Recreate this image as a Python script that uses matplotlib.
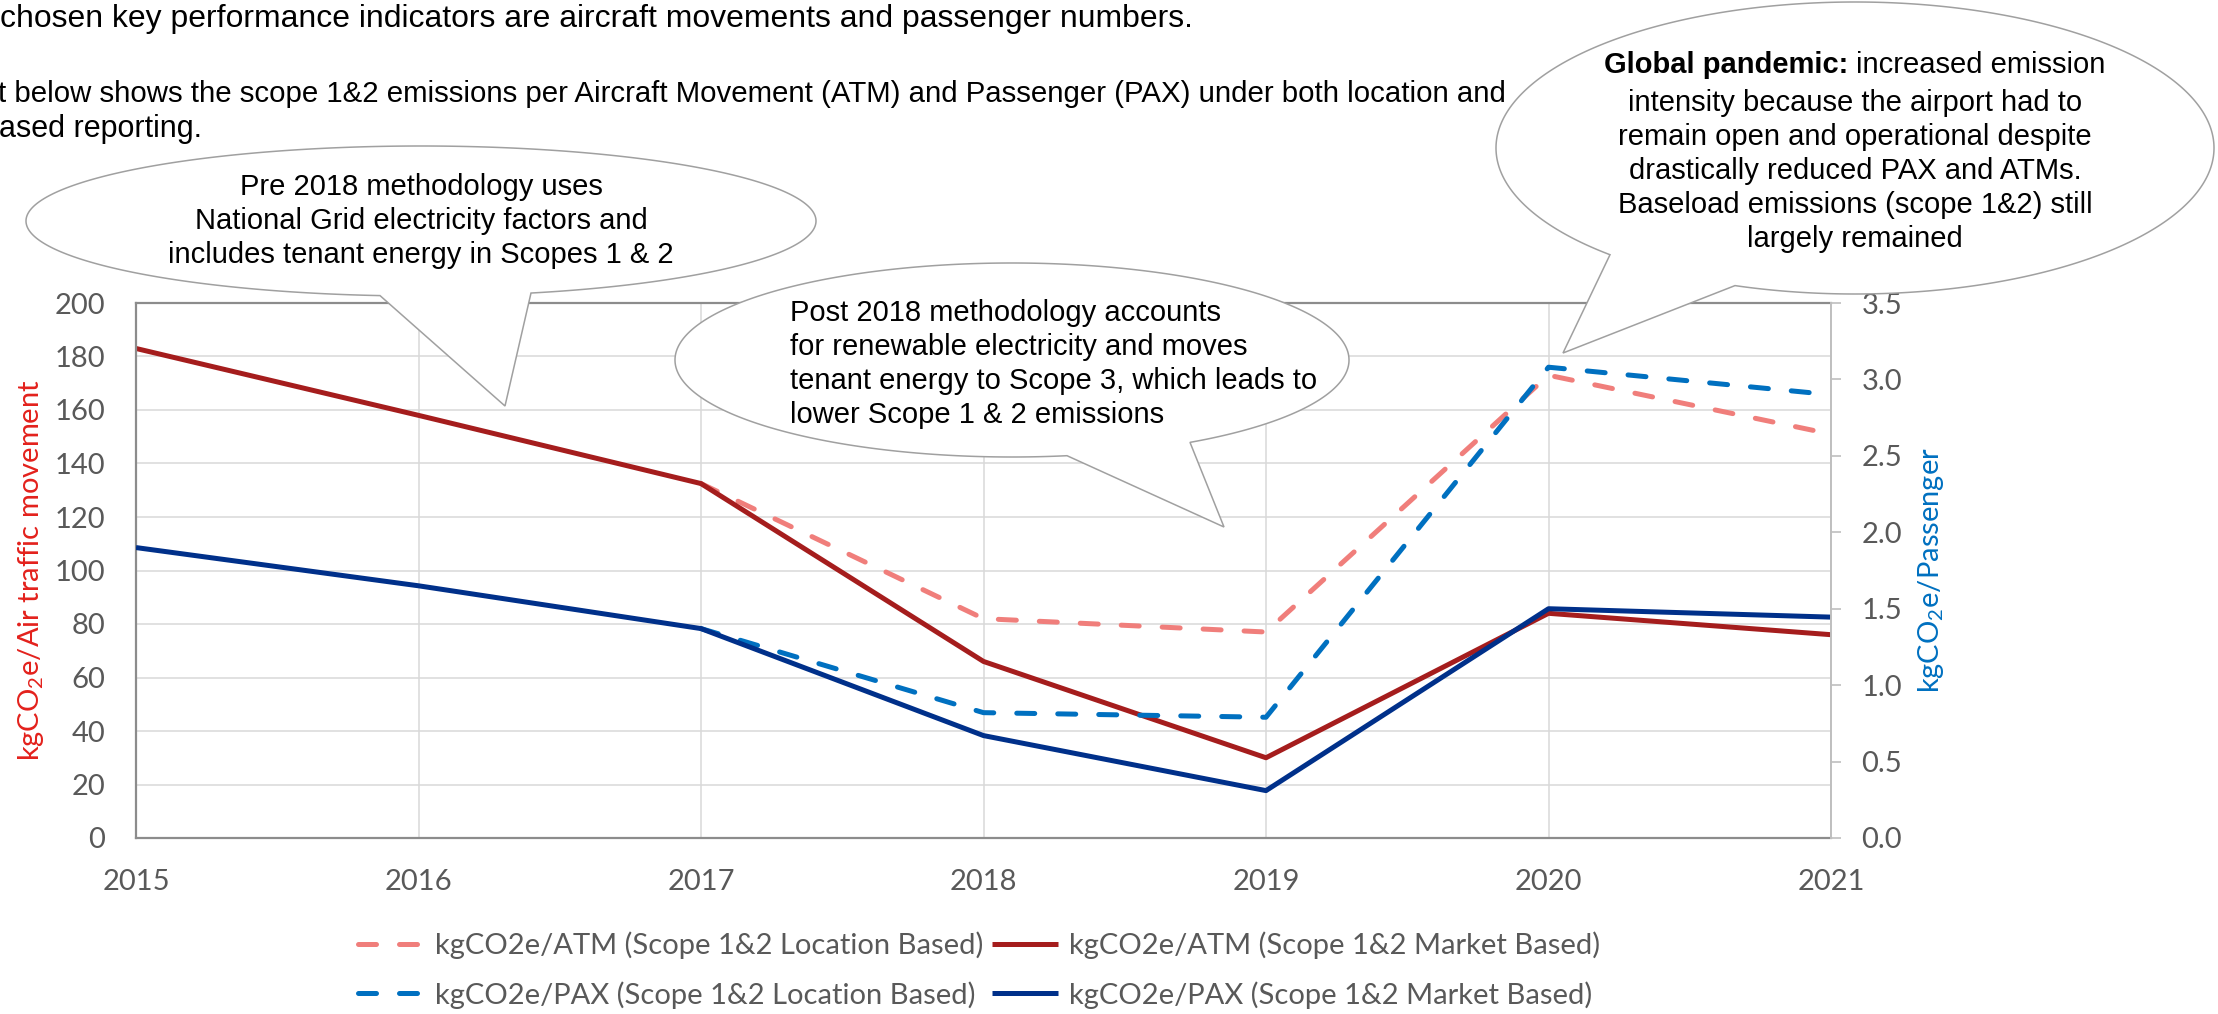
import matplotlib
matplotlib.use('Agg')
import matplotlib.pyplot as plt
import numpy as np
from matplotlib.patches import Polygon

# Data
years = [2015, 2016, 2017, 2018, 2019, 2020, 2021]
atm_location = [np.nan, np.nan, 132.5, 82, 77, 173, 151]
atm_market = [183, 158, 132.5, 66, 30, 84, 76]
pax_location = [np.nan, np.nan, 1.37, 0.82, 0.79, 3.08, 2.90]
pax_market = [1.90, 1.65, 1.37, 0.67, 0.31, 1.50, 1.445]
left_ticks = list(range(0, 201, 20))
right_ticks = [0.0, 0.5, 1.0, 1.5, 2.0, 2.5, 3.0, 3.5]

labels = ['kgCO2e/ATM (Scope 1&2 Location Based)',
          'kgCO2e/ATM (Scope 1&2 Market Based)',
          'kgCO2e/PAX (Scope 1&2 Location Based)',
          'kgCO2e/PAX (Scope 1&2 Market Based)']

# Colours
PINK = '#F07E7B'
DARK_RED = '#A51D1D'
BLUE = '#0070C0'
NAVY = '#00308A'
GRID = '#D9D9D9'
SPINE = '#8C8C8C'
SPINE_LIGHT = '#BFBFBF'
TICK_TXT = '#595959'
EDGE = '#A0A0A0'

plt.rcParams.update({
    'font.family': ['Lato', 'DejaVu Sans'],
    'mathtext.default': 'regular',
})

W, H = 2218, 1014
fig = plt.figure(figsize=(W / 100, H / 100), dpi=100)
renderer = fig.canvas.get_renderer()


def fx(x):
    return x / W


def fy(y):
    return 1 - y / H


ax = fig.add_axes([fx(136), fy(838), (1831 - 136) / W, (838 - 303) / H])
ax2 = ax.twinx()

lw = 3.6
dash = (0, (3.6, 4.6))
l1, = ax.plot(years, atm_location, color=PINK, lw=lw, linestyle=dash,
              dash_capstyle='round', label=labels[0])
l2, = ax.plot(years, atm_market, color=DARK_RED, lw=lw,
              solid_capstyle='butt', label=labels[1])
l3, = ax2.plot(years, pax_location, color=BLUE, lw=lw, linestyle=dash,
               dash_capstyle='round', label=labels[2])
l4, = ax2.plot(years, pax_market, color=NAVY, lw=lw,
               solid_capstyle='butt', label=labels[3])

ax.set_xlim(2015, 2021)
ax.set_ylim(0, 200)
ax2.set_ylim(0, 3.5)
ax.set_xticks(years)
ax.set_yticks(left_ticks)
ax2.set_yticks(right_ticks)
ax2.set_yticklabels([f'{v:.1f}' for v in right_ticks])

ax.grid(True, color=GRID, lw=1.1)
ax.set_axisbelow(True)

ax.tick_params(axis='y', length=0, pad=22, labelsize=21, labelcolor=TICK_TXT)
ax.tick_params(axis='x', length=0, pad=22, labelsize=21, labelcolor=TICK_TXT)
ax2.tick_params(axis='y', length=7, width=1.2, color=SPINE_LIGHT, pad=15,
                labelsize=21, labelcolor=TICK_TXT)

for s in ['left', 'bottom', 'top']:
    ax.spines[s].set_color(SPINE)
    ax.spines[s].set_linewidth(1.6)
ax.spines['right'].set_visible(False)
for s in ['left', 'bottom', 'top']:
    ax2.spines[s].set_visible(False)
ax2.spines['right'].set_color(SPINE_LIGHT)
ax2.spines['right'].set_linewidth(1.4)

ax.set_ylabel(r'kgCO$_2$e/Air traffic movement', color='#E3211C',
              fontsize=21, va='center')
ax.yaxis.set_label_coords((31 - 136) / 1695, 0.5)
ax2.set_ylabel(r'kgCO$_2$e/Passenger', color=BLUE, fontsize=21,
               va='center', rotation=90)
ax2.yaxis.set_label_coords((1931 - 136) / 1695, 0.5)

# Legend (row order: ATM loc, ATM market / PAX loc, PAX market)
fig.legend([l1, l3, l2, l4], [labels[0], labels[2], labels[1], labels[3]],
           ncol=2, loc='center', bbox_to_anchor=(fx(979), fy(970)),
           frameon=False, fontsize=21, labelcolor=TICK_TXT,
           handlelength=2.25, handletextpad=0.4, columnspacing=0.3,
           labelspacing=0.75, borderpad=0)

# Text above chart (cropped paragraph); first two lines fitted to width
TXT = dict(family='Liberation Sans', color='black', ha='left', va='baseline')


def fitted_text(x0, y, s, x_end, fs=22):
    t = fig.text(fx(x0), fy(y), s, fontsize=fs, **TXT)
    w = t.get_window_extent(renderer).width
    t.set_fontsize(fs * (x_end - x0) / w)
    return t


fitted_text(0, 27, 'chosen key performance indicators are aircraft '
            'movements and passenger numbers.', 1187)
fitted_text(-2, 102, 't below shows the scope 1&2 emissions per Aircraft '
            'Movement (ATM) and Passenger (PAX) under both location and', 1503)
fig.text(fx(-1), fy(137), 'ased reporting.', fontsize=22, **TXT)


def bubble(cx, cy, a, b, x1, x2, tip):
    t1 = np.arccos((x1 - cx) / a)
    t2 = np.arccos((x2 - cx) / a)
    t = np.linspace(t2, t1 - 2 * np.pi, 700)
    pts = [tip] + list(zip(cx + a * np.cos(t), cy + b * np.sin(t)))
    pts = [(fx(x), fy(y)) for x, y in pts]
    poly = Polygon(pts, closed=True, transform=fig.transFigure,
                   facecolor='white', edgecolor=EDGE, lw=1.1, zorder=5)
    fig.patches.append(poly)


BT = dict(family='Liberation Sans', fontsize=21, color='black',
          linespacing=1.28, zorder=6)

bubble(421, 221, 395, 75, 380, 531, (505, 406))
fig.text(fx(421), fy(221), 'Pre 2018 methodology uses\n'
         'National Grid electricity factors and\n'
         'includes tenant energy in Scopes 1 & 2',
         ha='center', va='center', multialignment='center', **BT)

bubble(1012, 360, 337, 97, 1067, 1190, (1224, 527))
fig.text(fx(790), fy(364), 'Post 2018 methodology accounts\n'
         'for renewable electricity and moves\n'
         'tenant energy to Scope 3, which leads to\n'
         'lower Scope 1 & 2 emissions',
         ha='left', va='center', multialignment='left', **BT)

bubble(1855, 148, 359, 146, 1610, 1735, (1563, 353))
# first line: bold lead-in followed by regular text
tb = fig.text(0, fy(65), 'Global pandemic:', fontweight='bold',
              ha='left', va='center', **BT)
tr = fig.text(0, fy(65), 'increased emission', ha='left', va='center', **BT)
wb = tb.get_window_extent(renderer).width
wr = tr.get_window_extent(renderer).width
gap = 8
x_start = 1855 - (wb + gap + wr) / 2
tb.set_x(fx(x_start))
tr.set_x(fx(x_start + wb + gap))
fig.text(fx(1855), fy(171), 'intensity because the airport had to\n'
         'remain open and operational despite\n'
         'drastically reduced PAX and ATMs.\n'
         'Baseload emissions (scope 1&2) still\n'
         'largely remained',
         ha='center', va='center', multialignment='center', **BT)

fig.savefig('out.png', dpi=100, facecolor='white')
